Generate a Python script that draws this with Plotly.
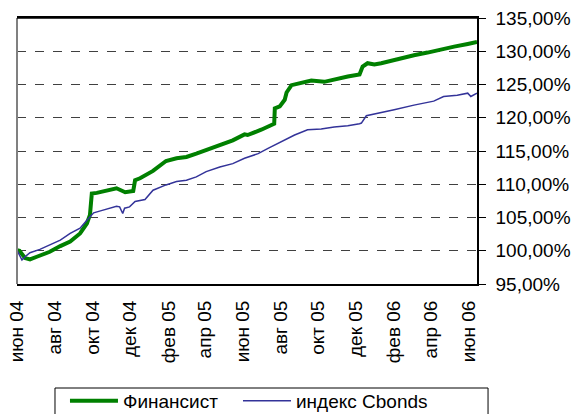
import plotly.graph_objects as go

# Финансист
fin_dates = ["2004-06-01","2004-06-05","2004-06-14","2004-06-22","2004-07-03","2004-07-24",
             "2004-08-10","2004-08-26","2004-09-11","2004-09-22","2004-09-27","2004-09-30",
             "2004-10-08","2004-10-29","2004-11-09","2004-11-23","2004-12-04","2004-12-06",
             "2004-12-09","2004-12-17","2005-01-07","2005-01-28","2005-02-14","2005-03-02",
             "2005-03-18","2005-04-03","2005-04-25","2005-05-16","2005-06-04","2005-06-09",
             "2005-07-01","2005-07-20","2005-07-22","2005-07-23","2005-07-31","2005-08-08",
             "2005-08-11","2005-08-19","2005-09-04","2005-09-20","2005-10-11","2005-10-27",
             "2005-11-18","2005-12-07","2005-12-12","2005-12-20","2005-12-31","2006-01-11",
             "2006-02-01","2006-02-22","2006-03-05","2006-03-27","2006-04-17","2006-05-09",
             "2006-05-31","2006-06-15"]
fin_values = [100.1,100.0,98.9,98.7,99.1,99.85,
              100.7,101.4,102.6,104.1,105.4,108.6,
              108.7,109.2,109.4,108.8,108.9,109.0,
              110.6,110.9,112.0,113.5,113.9,114.1,
              114.6,115.1,115.9,116.6,117.5,117.4,
              118.2,118.9,119.1,121.4,121.7,122.7,
              123.8,124.9,125.3,125.6,125.4,125.8,
              126.2,126.5,127.7,128.2,128.0,128.2,
              128.7,129.1,129.4,129.8,130.3,130.7,
              131.1,131.4]

# индекс Cbonds
cb_dates = ["2004-06-01","2004-06-09","2004-06-14","2004-06-22","2004-07-08","2004-07-24",
            "2004-08-10","2004-08-26","2004-09-11","2004-09-22","2004-10-03","2004-10-14",
            "2004-10-29","2004-11-09","2004-11-14","2004-11-19","2004-11-22","2004-11-30",
            "2004-12-09","2004-12-25","2005-01-07","2005-01-28","2005-02-14","2005-03-02",
            "2005-03-18","2005-04-03","2005-04-25","2005-05-16","2005-06-04","2005-06-26",
            "2005-07-12","2005-08-08","2005-08-24","2005-09-14","2005-10-06","2005-10-27",
            "2005-11-18","2005-12-07","2005-12-10","2005-12-18","2006-01-08","2006-02-01",
            "2006-03-05","2006-04-06","2006-04-22","2006-05-14","2006-05-31","2006-06-05",
            "2006-06-15"]
cb_values = [100.1,98.6,99.1,99.7,100.2,100.9,
             101.6,102.6,103.4,104.6,105.7,106.0,
             106.4,106.7,106.6,105.6,106.4,106.6,
             107.4,107.7,109.1,109.9,110.4,110.6,
             111.1,111.9,112.6,113.1,113.9,114.6,
             115.4,116.6,117.4,118.2,118.3,118.6,
             118.8,119.1,119.2,120.3,120.7,121.2,
             121.9,122.5,123.2,123.4,123.7,123.2,
             123.7]

x_tick_dates = ["2004-06-01","2004-08-01","2004-10-01","2004-12-01","2005-02-01","2005-04-01",
                "2005-06-01","2005-08-01","2005-10-01","2005-12-01","2006-02-01","2006-04-01",
                "2006-06-01"]
x_tick_labels = ["июн 04","авг 04","окт 04","дек 04","фев 05","апр 05","июн 05",
                 "авг 05","окт 05","дек 05","фев 06","апр 06","июн 06"]
y_ticks = [95,100,105,110,115,120,125,130,135]
y_tick_labels = ["95,00%","100,00%","105,00%","110,00%","115,00%","120,00%",
                 "125,00%","130,00%","135,00%"]

fig = go.Figure()
fig.add_trace(go.Scatter(x=fin_dates, y=fin_values, mode="lines", name="Финансист",
                         line=dict(color="#008000", width=4), legend="legend"))
fig.add_trace(go.Scatter(x=cb_dates, y=cb_values, mode="lines", name="индекс Cbonds",
                         line=dict(color="#333399", width=1.5), legend="legend2"))

font = "Arial, Liberation Sans, sans-serif"
leg_common = dict(orientation="h", xanchor="left", y=-0.368, yanchor="top",
                  borderwidth=0, bgcolor="rgba(0,0,0,0)",
                  font=dict(size=19), itemwidth=48)
fig.update_layout(
    width=574, height=414,
    margin=dict(l=17, r=97, t=18, b=130, autoexpand=False),
    paper_bgcolor="white", plot_bgcolor="white",
    font=dict(family=font, size=19, color="black"),
    showlegend=True,
    legend=dict(x=0.1043, **leg_common),
    legend2=dict(x=0.4804, **leg_common),
    xaxis=dict(type="date", range=["2004-06-01", "2006-06-15"], automargin=False,
               tickmode="array", tickvals=x_tick_dates, ticktext=x_tick_labels,
               tickangle=-90, showgrid=False, zeroline=False,
               showline=True, linecolor="black", linewidth=2, mirror=True,
               ticks="", tickfont=dict(size=19), ticklabelstandoff=7,
               ticklabeloverflow="allow"),
    yaxis=dict(side="right", range=[95, 135], automargin=False,
               tickmode="array", tickvals=y_ticks,
               ticktext=y_tick_labels, showgrid=True, gridcolor="#404040",
               griddash="dash", gridwidth=1, zeroline=False,
               showline=True, linecolor="black", linewidth=1.5,
               ticks="outside", ticklen=7, tickcolor="black",
               tickfont=dict(size=19), ticklabelstandoff=6,
               ticklabeloverflow="allow"),
    shapes=[dict(type="line", xref="paper", yref="paper", x0=0, x1=0, y0=0, y1=1,
                 line=dict(color="#808080", width=2)),
            dict(type="line", xref="paper", yref="paper", x0=0, x1=1, y0=1, y1=1,
                 line=dict(color="black", width=1.5)),
            dict(type="rect", xref="paper", yref="paper", x0=0.0826, x1=1.024,
                 y0=-0.52, y1=-0.391, line=dict(color="black", width=1),
                 fillcolor="rgba(0,0,0,0)")],
)
fig.write_html("out.html", config={"displayModeBar": False},
               post_script="document.body.style.margin='0';")
